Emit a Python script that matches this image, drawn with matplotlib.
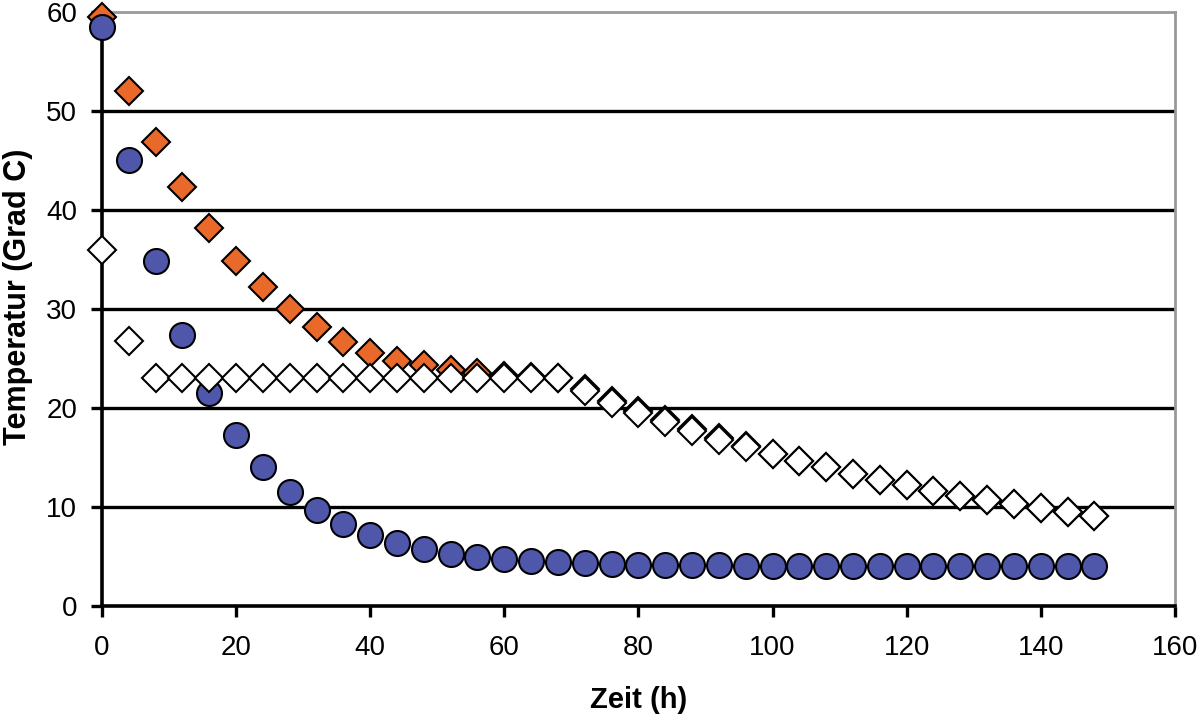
import matplotlib
matplotlib.use("Agg")
import matplotlib.pyplot as plt

plt.rcParams['font.family'] = ['Liberation Sans', 'DejaVu Sans']

# Zeit in Stunden
zeit = [0, 4, 8, 12, 16, 20, 24, 28, 32, 36, 40, 44, 48, 52, 56, 60, 64, 68, 72,
        76, 80, 84, 88, 92, 96, 100, 104, 108, 112, 116, 120, 124, 128, 132,
        136, 140, 144, 148]

# Temperaturen (Grad C)
temp_blau = [58.5, 45.1, 34.9, 27.4, 21.5, 17.3, 14.0, 11.5, 9.7, 8.3,
             7.2, 6.4, 5.8, 5.3, 5.0, 4.7, 4.55, 4.4,
             4.3, 4.2, 4.15, 4.1, 4.1, 4.1, 4.05, 4.05, 4.0, 4.0,
             4.0, 4.0, 4.0, 4.0, 4.0, 4.0, 4.0, 4.0, 4.0, 4.0]
temp_orange = [59.5, 52.0, 46.9, 42.3, 38.2, 34.9, 32.2, 30.0, 28.2, 26.7,
               25.6, 24.8, 24.3, 23.8, 23.5, 23.2, 23.1, 23.0,
               21.9, 20.7, 19.7, 18.8, 17.9, 17.0, 16.2, 15.35, 14.6, 14.0,
               13.3, 12.7, 12.2, 11.6, 11.1, 10.7, 10.3, 9.9, 9.5, 9.1]
temp_weiss = [36.0, 26.8, 23.0, 23.0, 23.0, 23.0, 23.0, 23.0, 23.0, 23.0,
              23.0, 23.0, 23.0, 23.0, 23.0, 23.0, 23.0, 23.0,
              21.7, 20.5, 19.5, 18.6, 17.7, 16.8, 16.1, 15.35, 14.6, 14.0,
              13.3, 12.7, 12.2, 11.6, 11.1, 10.7, 10.3, 9.9, 9.5, 9.1]

fig = plt.figure(figsize=(12, 7.2), dpi=100)
ax = fig.add_axes([0.085, 0.1583, 0.894, 0.825])

ax.plot(zeit, temp_orange, linestyle='none', marker='D', markersize=14,
        markerfacecolor='#E8692A', markeredgecolor='black', markeredgewidth=1.5,
        zorder=3, clip_on=False)
ax.plot(zeit, temp_blau, linestyle='none', marker='o', markersize=18,
        markerfacecolor='#4F57AB', markeredgecolor='black', markeredgewidth=1.5,
        zorder=4, clip_on=False)
ax.plot(zeit, temp_weiss, linestyle='none', marker='D', markersize=14,
        markerfacecolor='white', markeredgecolor='black', markeredgewidth=1.5,
        zorder=5, clip_on=False)

ax.set_xlim(0, 160)
ax.set_ylim(0, 60)
ax.set_xticks(range(0, 161, 20))
ax.set_yticks(range(0, 61, 10))

for y in range(10, 60, 10):
    ax.axhline(y, color='black', linewidth=2.4, zorder=1)

ax.spines['left'].set_color('black')
ax.spines['left'].set_linewidth(2.6)
ax.spines['bottom'].set_color('black')
ax.spines['bottom'].set_linewidth(2.6)
ax.spines['top'].set_color('#999999')
ax.spines['top'].set_linewidth(2)
ax.spines['right'].set_color('#999999')
ax.spines['right'].set_linewidth(2)

ax.tick_params(axis='both', direction='out', length=8, width=2.4,
               labelsize=20, color='black')
ax.tick_params(axis='y', pad=10)
ax.tick_params(axis='x', pad=13)

ax.set_xlabel("Zeit (h)", fontsize=21, fontweight='bold')
ax.set_ylabel("Temperatur (Grad C)", fontsize=22, fontweight='bold')
ax.xaxis.set_label_coords(0.5, -0.158)
ax.yaxis.set_label_coords(-0.078, 0.52)
ax.xaxis.label.set_verticalalignment('center')
ax.yaxis.label.set_verticalalignment('center')

fig.savefig("out.png", dpi=100)
